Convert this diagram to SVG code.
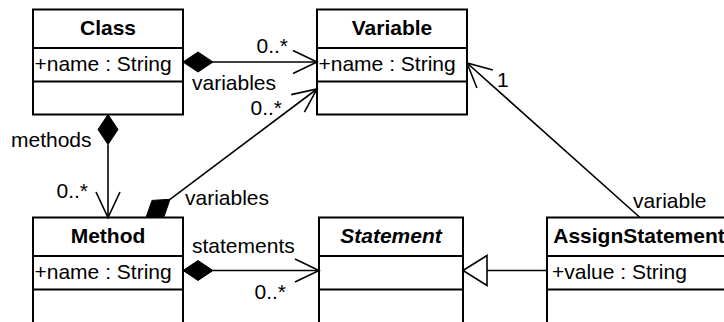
<svg xmlns="http://www.w3.org/2000/svg" width="724" height="322" viewBox="0 0 724 322">
  <style>
    text { font-family: "Liberation Sans", Arial, sans-serif; font-size: 21px; fill: #000; }
    .title { font-weight: bold; text-anchor: middle; }
    .abstract { font-style: italic; }
    .box { fill: #fff; stroke: #000; stroke-width: 2; }
    .div { stroke: #000; stroke-width: 2; }
    .edge { fill: none; stroke: #000; stroke-width: 1.6; }
    .diamond { fill: #000; stroke: #000; stroke-width: 1; }
    .gen { fill: #fff; stroke: #000; stroke-width: 1.6; }
  </style>
  <rect width="724" height="322" fill="#fff"/>

  <!-- classes -->
  <g id="class">
    <rect class="box" x="33" y="9.5" width="150" height="105"/>
    <line class="div" x1="33" y1="48" x2="183" y2="48"/>
    <line class="div" x1="33" y1="81.5" x2="183" y2="81.5"/>
    <text class="title" x="108" y="35">Class</text>
    <text x="34.5" y="71">+name : String</text>
  </g>
  <g id="variable">
    <rect class="box" x="317" y="9.5" width="150" height="105"/>
    <line class="div" x1="317" y1="48" x2="467" y2="48"/>
    <line class="div" x1="317" y1="81.5" x2="467" y2="81.5"/>
    <text class="title" x="392" y="35">Variable</text>
    <text x="318.5" y="71">+name : String</text>
  </g>
  <g id="method">
    <rect class="box" x="33" y="217.5" width="150" height="115"/>
    <line class="div" x1="33" y1="256" x2="183" y2="256"/>
    <line class="div" x1="33" y1="289.5" x2="183" y2="289.5"/>
    <text class="title" x="108" y="243">Method</text>
    <text x="34.5" y="279">+name : String</text>
  </g>
  <g id="statement">
    <rect class="box" x="319" y="217.5" width="144" height="115"/>
    <line class="div" x1="319" y1="256" x2="463" y2="256"/>
    <line class="div" x1="319" y1="289.5" x2="463" y2="289.5"/>
    <text class="title abstract" x="391" y="243">Statement</text>
  </g>
  <g id="assignstatement">
    <rect class="box" x="547" y="217.5" width="184" height="115"/>
    <line class="div" x1="547" y1="256" x2="731" y2="256"/>
    <line class="div" x1="547" y1="289.5" x2="731" y2="289.5"/>
    <text class="title" x="639" y="243">AssignStatement</text>
    <text x="552" y="279">+value : String</text>
  </g>

  <!-- associations -->
  <g id="connectors">
    <!-- Class.variables -> Variable -->
    <polygon class="diamond" points="183,62 198,52 213,62 198,72"/>
    <line class="edge" x1="213" y1="62" x2="317" y2="62"/>
    <polyline class="edge" points="293,50.5 317,62 293,73.5"/>
    <text x="288" y="53" text-anchor="end">0..*</text>
    <text x="192" y="90">variables</text>

    <!-- Class.methods -> Method -->
    <polygon class="diamond" points="108,114.5 98,129.5 108,144.5 118,129.5"/>
    <line class="edge" x1="108" y1="144.5" x2="108" y2="217.5"/>
    <polyline class="edge" points="96,192 108,217.5 120,192"/>
    <text x="11" y="147">methods</text>
    <text x="88" y="198" text-anchor="end">0..*</text>

    <!-- Method.variables -> Variable -->
    <polygon class="diamond" points="146,217.5 152,200.4 170,199.3 164.1,216.4"/>
    <line class="edge" x1="170" y1="199.3" x2="317" y2="89"/>
    <polyline class="edge" points="291.2,94.6 317,89 304.4,112.2"/>
    <text x="185" y="205">variables</text>
    <text x="282" y="115" text-anchor="end">0..*</text>

    <!-- Method.statements -> Statement -->
    <polygon class="diamond" points="183,270.5 198,260.5 213,270.5 198,280.5"/>
    <line class="edge" x1="213" y1="270.5" x2="319" y2="270.5"/>
    <polyline class="edge" points="295,259 319,270.5 295,282"/>
    <text x="192" y="253">statements</text>
    <text x="286" y="299" text-anchor="end">0..*</text>

    <!-- AssignStatement generalizes Statement -->
    <line class="edge" x1="487" y1="270.5" x2="547" y2="270.5"/>
    <polygon class="gen" points="463,270.5 487,255.5 487,285.5"/>

    <!-- AssignStatement.variable -> Variable -->
    <line class="edge" x1="640" y1="217.5" x2="467" y2="63"/>
    <polyline class="edge" points="492.9,70 467,63 476.9,88"/>
    <text x="497" y="87">1</text>
    <text x="633" y="208">variable</text>
  </g>
</svg>
